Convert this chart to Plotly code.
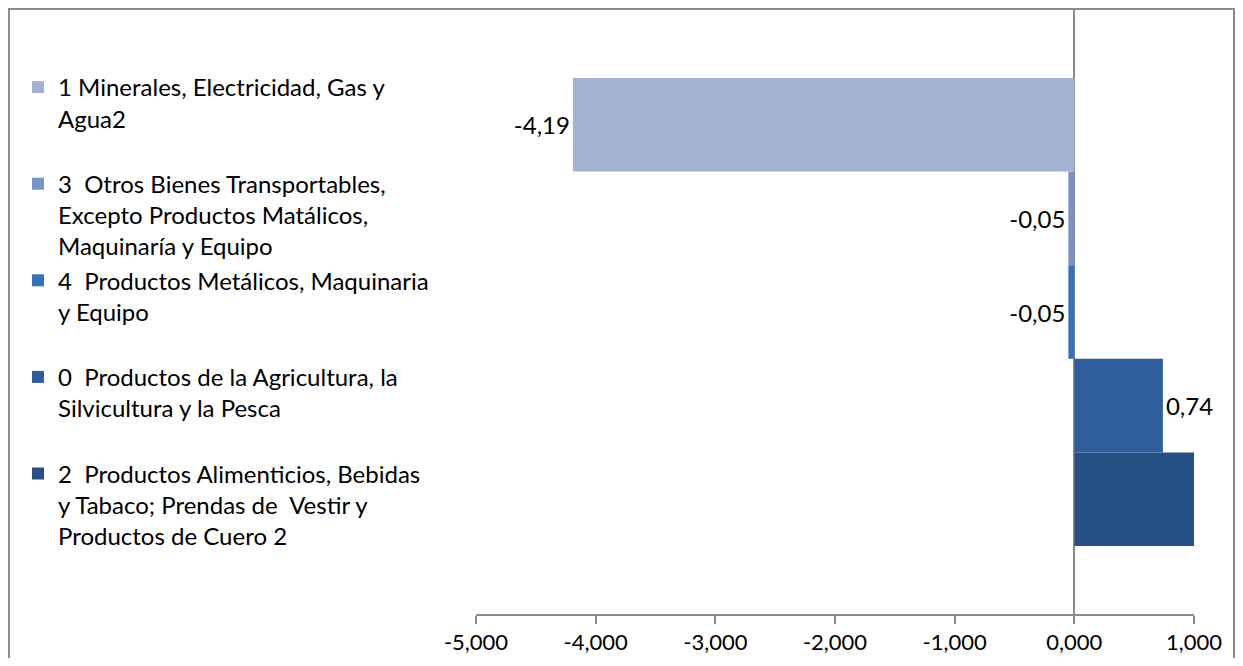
import plotly.graph_objects as go

# Data (series listed top-to-bottom as shown in the legend / bars)
series_names = [
    "1 Minerales, Electricidad, Gas y<br>Agua2<br> ",
    "3  Otros Bienes Transportables,<br>Excepto Productos Matálicos,<br>Maquinaría y Equipo",
    "4  Productos Metálicos, Maquinaria<br>y Equipo<br> ",
    "0  Productos de la Agricultura, la<br>Silvicultura y la Pesca<br> ",
    "2  Productos Alimenticios, Bebidas<br>y Tabaco; Prendas de  Vestir y<br>Productos de Cuero 2",
]
series_values = [-4.19, -0.05, -0.05, 0.74, 1.02]
value_labels = ["-4,19", "-0,05", "-0,05", "0,74", ""]
series_colors = ["#A2B2D0", "#7893C6", "#3671BD", "#2E5E9C", "#264F84"]
category = [""]
tick_vals = [-5, -4, -3, -2, -1, 0, 1]
tick_text = ["-5,000", "-4,000", "-3,000", "-2,000", "-1,000", "0,000", "1,000"]

FONT = "Lato"
FS = 24

fig = go.Figure()
# Plotly draws the first trace of a group at the bottom, so add in reverse
for name, val, lab, col in reversed(list(zip(series_names, series_values, value_labels, series_colors))):
    fig.add_trace(go.Bar(
        y=category, x=[val], name=name, orientation="h",
        marker=dict(color=col, line=dict(width=0)),
        text=[lab], texttemplate="%{text}",
        textposition="outside",
        textfont=dict(family=FONT, size=FS, color="#000000"),
        cliponaxis=False,
    ))

# page body has an 8px margin; keep the figure inside the 1243x666 window
OFF = 8
W, H = 1243 - 2 * OFF, 666 - 2 * OFF
# target screen positions of the plot area
SL, SR, ST, SB = 476, 1194, 10, 614
L, R, T, B = SL - OFF, W - (SR - OFF), ST - OFF, H - (SB - OFF)
pw, ph = W - L - R, H - T - B

def px_x(sx):
    return (sx - OFF - L) / pw

def px_y(sy):
    return (H - B - (sy - OFF)) / ph

fig.update_layout(
    width=W, height=H,
    margin=dict(l=L, r=R, t=T, b=B, pad=0, autoexpand=False),
    paper_bgcolor="white", plot_bgcolor="white",
    barmode="group", bargap=0.225, bargroupgap=0,
    font=dict(family=FONT, size=FS, color="#000000"),
    showlegend=True,
    legend=dict(
        traceorder="reversed",
        x=px_x(18), xanchor="left",
        y=px_y(65), yanchor="top",
        valign="top",
        font=dict(family=FONT, size=FS, color="#000000"),
        bgcolor="rgba(0,0,0,0)",
        itemclick=False,
    ),
    xaxis=dict(
        range=[-5, 1],
        tickvals=tick_vals,
        ticktext=tick_text,
        showgrid=False,
        automargin=False,
        zeroline=True, zerolinecolor="#8C8C8C", zerolinewidth=1.5,
        showline=True, linecolor="#8C8C8C", linewidth=1.5,
        ticks="outside", ticklen=8, tickcolor="#8C8C8C", tickwidth=1.5,
        tickfont=dict(family=FONT, size=22, color="#000000"),
        fixedrange=True,
    ),
    yaxis=dict(visible=False, fixedrange=True, automargin=False),
    shapes=[dict(
        type="rect", xref="paper", yref="paper",
        x0=px_x(9), x1=px_x(1234), y0=px_y(9), y1=px_y(700),
        line=dict(color="#8C8C8C", width=2), fillcolor="rgba(0,0,0,0)",
        layer="below",
    )],
)

fig.write_html("out.html")
